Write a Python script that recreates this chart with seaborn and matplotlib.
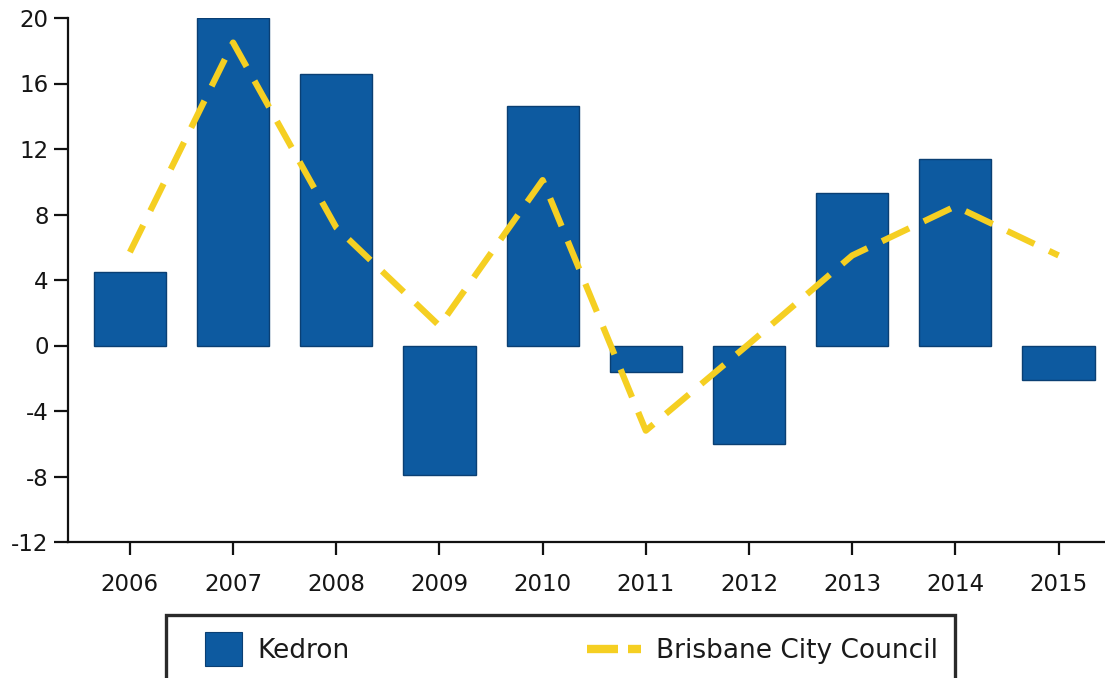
import matplotlib
matplotlib.use("Agg")
import matplotlib.pyplot as plt
import seaborn as sns
import numpy as np
import pandas as pd
from matplotlib.patches import Patch, Rectangle
from matplotlib.lines import Line2D
from matplotlib.legend_handler import HandlerBase

years = ["2006", "2007", "2008", "2009", "2010", "2011", "2012", "2013", "2014", "2015"]
kedron = [4.5, 20.0, 16.6, -7.9, 14.6, -1.6, -6.0, 9.3, 11.4, -2.1]
brisbane = [5.7, 18.5, 7.2, 1.2, 10.1, -5.2, 0.1, 5.5, 8.5, 5.5]
y_ticks = [-12, -8, -4, 0, 4, 8, 12, 16, 20]

bar_color = "#0d5aa0"
line_color = "#f5cf22"
W, H = 1105, 678

sns.set_theme(style="white")
plt.rcParams["font.family"] = ["DejaVu Sans"]

fig = plt.figure(figsize=(W / 100, H / 100), dpi=100)
ax = fig.add_axes([68 / W, 1 - 542 / H, (W - 68) / W, (542 - 18) / H])

df = pd.DataFrame({"year": years, "Kedron": kedron, "Brisbane": brisbane})
sns.barplot(data=df, x="year", y="Kedron", color=bar_color, width=0.7,
            saturation=1, ax=ax, edgecolor="#0a3f73", linewidth=1)
sns.lineplot(x=np.arange(len(years)), y=brisbane, color=line_color, ax=ax,
             linewidth=4.5)
ax.lines[-1].set_dashes([4.8, 2.6])
ax.lines[-1].set_dash_capstyle("butt")

ax.set_xlim(-0.6, 9.45)
ax.set_ylim(-12, 20)
ax.set_yticks(y_ticks)
ax.set_yticklabels([str(t) for t in y_ticks])
ax.set_xlabel("")
ax.set_ylabel("")
sns.despine(ax=ax, top=True, right=True)
for s in ["left", "bottom"]:
    ax.spines[s].set_color("#111111")
    ax.spines[s].set_linewidth(1.6)
ax.tick_params(axis="y", which="major", left=True, length=10, width=1.6,
               color="#111111", labelsize=16.5, pad=4, labelcolor="#151515")
ax.tick_params(axis="x", which="major", bottom=True, length=9, width=1.6,
               color="#111111", labelsize=16.5, pad=13, labelcolor="#151515")
ax.grid(False)


class SquareHandler(HandlerBase):
    def create_artists(self, legend, orig_handle, xdescent, ydescent, width,
                       height, fontsize, trans):
        r = Rectangle((-xdescent, -ydescent - 4), width, height + 8,
                      facecolor=bar_color, edgecolor="#0a3f73", lw=0.8,
                      transform=trans)
        return [r]


class DashHandler(HandlerBase):
    def create_artists(self, legend, orig_handle, xdescent, ydescent, width,
                       height, fontsize, trans):
        y = height / 2 - ydescent
        x0 = -xdescent
        l1 = Line2D([x0 - 0.45 * width, x0 + 0.37 * width], [y, y],
                    color=line_color, lw=6, solid_capstyle="butt", transform=trans)
        l2 = Line2D([x0 + 0.63 * width, x0 + width], [y, y],
                    color=line_color, lw=6, solid_capstyle="butt", transform=trans)
        return [l1, l2]


h1 = Patch(facecolor=bar_color)
h2 = Line2D([0], [0], color=line_color)
leg = fig.legend([h1, h2], ["Kedron", "Brisbane City Council"], ncol=2, mode="expand",
                 loc="upper left",
                 bbox_to_anchor=(205 / W, 1 - 644 / H, (938 - 205) / W, 0.01),
                 frameon=False, fontsize=19, handlelength=1.42, handleheight=1.0,
                 borderpad=0, borderaxespad=0, handletextpad=0.55,
                 handler_map={Patch: SquareHandler(), Line2D: DashHandler()})
for t in leg.get_texts():
    t.set_color("#1a1a1a")

frame = Rectangle((166 / W, -0.05), (955 - 166) / W, 0.05 + (678 - 615) / H,
                  transform=fig.transFigure, facecolor="none",
                  edgecolor="#2a2a2a", linewidth=2.4, clip_on=False)
fig.add_artist(frame)

fig.savefig("out.png", dpi=100)
